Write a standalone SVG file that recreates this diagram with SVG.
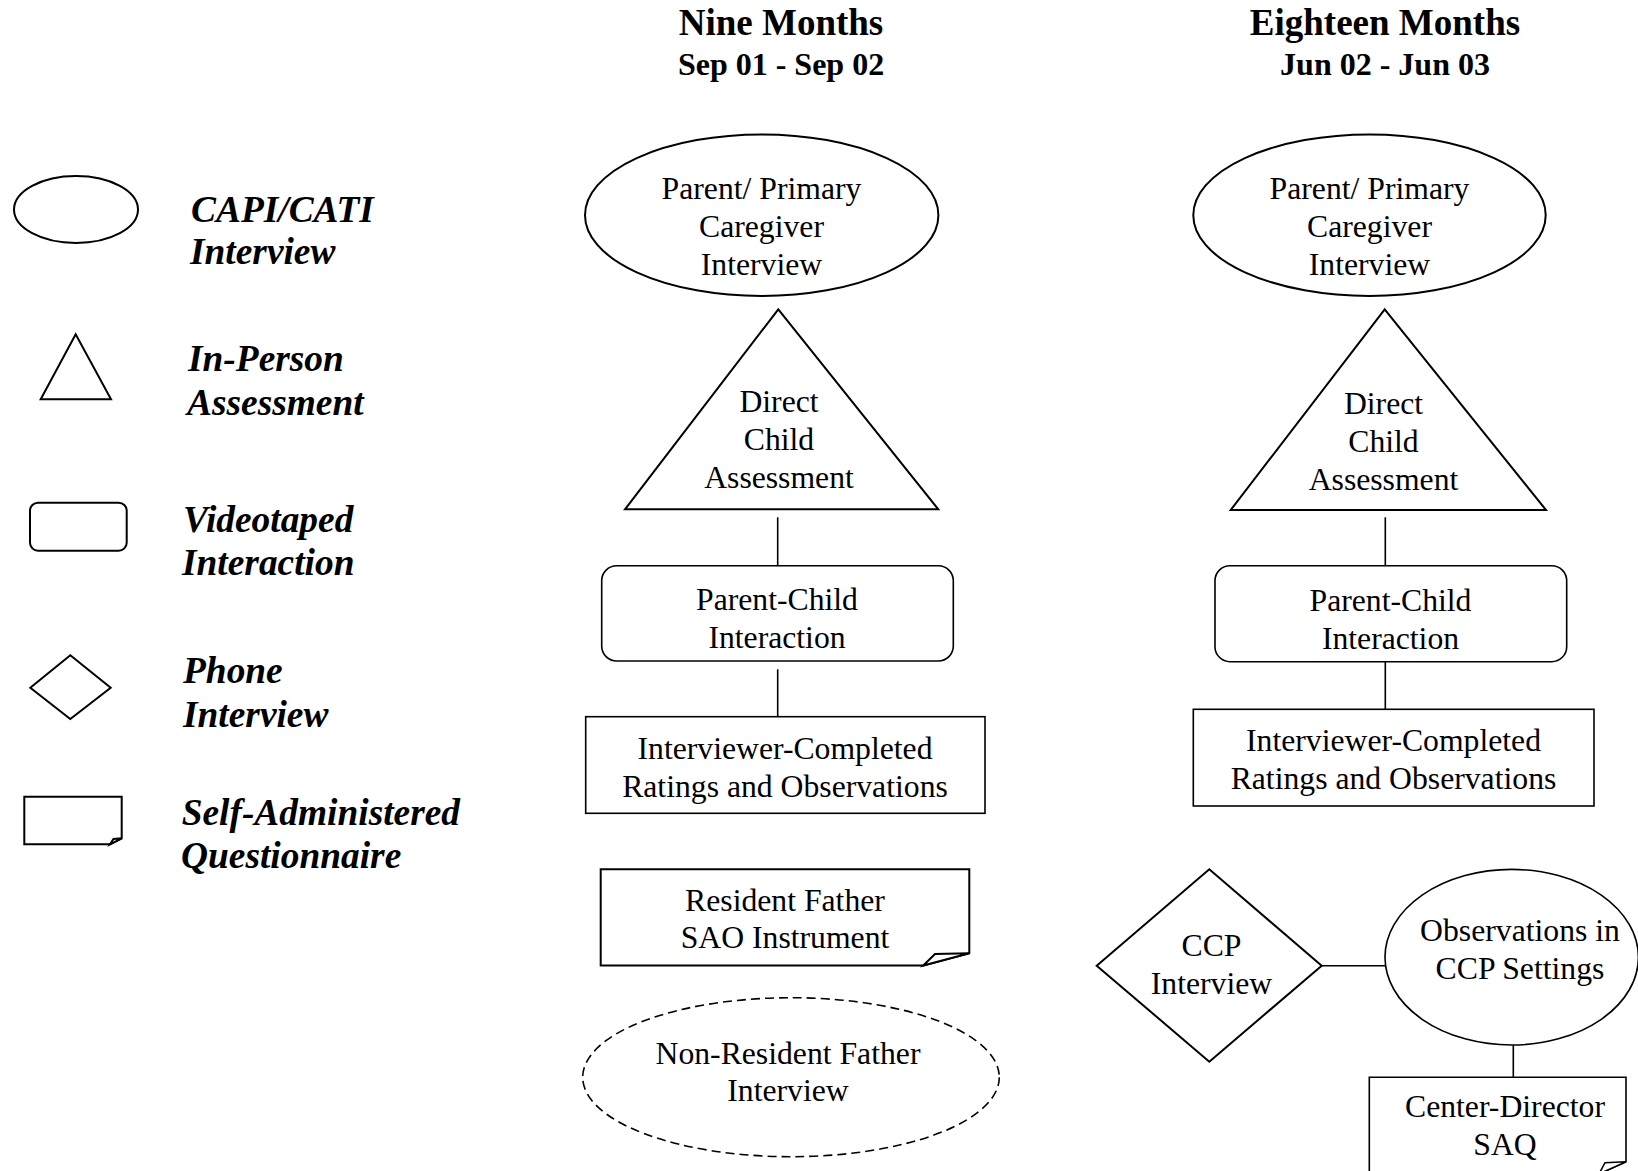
<svg xmlns="http://www.w3.org/2000/svg" width="1638" height="1171" viewBox="0 0 1638 1171">
<style>
.shape{fill:#fff;stroke:#000;stroke-width:2}
.thin{fill:#fff;stroke:#000;stroke-width:1.6}
.dash{fill:#fff;stroke:#000;stroke-width:1.6;stroke-dasharray:9 5}
.conn line{stroke:#000;stroke-width:1.6}
.t{font-family:"Liberation Serif","Times New Roman",serif;font-size:31.7px;text-anchor:middle;fill:#000}
.leg{font-family:"Liberation Serif","Times New Roman",serif;font-size:37.4px;font-weight:bold;font-style:italic;fill:#000}
.h1{font-family:"Liberation Serif","Times New Roman",serif;font-size:37px;font-weight:bold;text-anchor:middle;fill:#000}
.h2{font-family:"Liberation Serif","Times New Roman",serif;font-size:32px;font-weight:bold;text-anchor:middle;fill:#000}
</style>
<rect width="1638" height="1171" fill="#fff"/>

<g id="legend">
  <g id="legend-capi">
    <ellipse class="shape" cx="76" cy="209.5" rx="62" ry="33.5"/>
    <text class="leg" x="191" y="222">CAPI/CATI</text>
    <text class="leg" x="190" y="264">Interview</text>
  </g>
  <g id="legend-inperson">
    <polygon class="shape" points="75.7,334.3 40.7,399.3 111,399.3"/>
    <text class="leg" x="188" y="371">In-Person</text>
    <text class="leg" x="187" y="415">Assessment</text>
  </g>
  <g id="legend-video">
    <rect class="shape" x="30" y="502.7" width="96.7" height="48" rx="8"/>
    <text class="leg" x="183" y="532">Videotaped</text>
    <text class="leg" x="182" y="575">Interaction</text>
  </g>
  <g id="legend-phone">
    <polygon class="shape" points="30.3,687.7 70.3,655.3 110.7,687.7 70.3,719"/>
    <text class="leg" x="183" y="683">Phone</text>
    <text class="leg" x="183" y="727">Interview</text>
  </g>
  <g id="legend-saq">
    <path class="shape" d="M24.3,796.7 H121.7 V838.3 L110,844.3 H24.3 Z"/>
    <path class="shape" d="M110,844.3 L113.5,839 L121.7,838.3 Z" stroke-width="1.5"/>
    <text class="leg" x="181.7" y="825">Self-Administered</text>
    <text class="leg" x="181" y="868">Questionnaire</text>
  </g>
</g>

<g id="headers">
  <text class="h1" x="781" y="35">Nine Months</text>
  <text class="h2" x="781" y="74.5">Sep 01 - Sep 02</text>
  <text class="h1" x="1385" y="35">Eighteen Months</text>
  <text class="h2" x="1385" y="74.5">Jun 02 - Jun 03</text>
</g>

<g id="connectors" class="conn">
  <line x1="777.7" y1="517.3" x2="777.7" y2="565.7"/>
  <line x1="777.7" y1="669.3" x2="777.7" y2="716.7"/>
  <line x1="1385.3" y1="517.3" x2="1385.3" y2="565.7"/>
  <line x1="1385.3" y1="661.7" x2="1385.3" y2="709.3"/>
  <line x1="1321.7" y1="965.7" x2="1385" y2="965.7"/>
  <line x1="1513.3" y1="1045" x2="1513.3" y2="1077.3"/>
</g>

<g id="n9-parent">
  <ellipse class="shape" cx="761.7" cy="215.2" rx="176.7" ry="80.8"/>
  <text class="t" x="761.5" y="199">Parent/ Primary</text>
  <text class="t" x="761.5" y="237">Caregiver</text>
  <text class="t" x="761.5" y="275">Interview</text>
</g>
<g id="n9-direct">
  <polygon class="shape" points="778.3,309.3 625,509.3 938.3,509.3"/>
  <text class="t" x="779" y="412">Direct</text>
  <text class="t" x="779" y="450">Child</text>
  <text class="t" x="779" y="488">Assessment</text>
</g>
<g id="n9-interaction">
  <rect class="thin" x="601.7" y="565.7" width="351.6" height="95.3" rx="15"/>
  <text class="t" x="777" y="610">Parent-Child</text>
  <text class="t" x="777" y="648">Interaction</text>
</g>
<g id="n9-ratings">
  <rect class="thin" x="585.7" y="716.7" width="399.3" height="96.6"/>
  <text class="t" x="785" y="758.5">Interviewer-Completed</text>
  <text class="t" x="785" y="796.5">Ratings and Observations</text>
</g>
<g id="n9-resfather">
  <path class="shape" d="M600.7,869.3 H969.3 V953.3 L923.3,965.5 H600.7 Z"/>
  <path class="shape" d="M923.3,965.5 L935,954 L969.3,953.3 Z" stroke-width="1.6"/>
  <text class="t" x="785" y="911">Resident Father</text>
  <text class="t" x="785" y="948">SAO Instrument</text>
</g>
<g id="n9-nonres">
  <ellipse class="dash" cx="791" cy="1077.2" rx="208.3" ry="79.5"/>
  <text class="t" x="788" y="1063.5">Non-Resident Father</text>
  <text class="t" x="788" y="1101">Interview</text>
</g>

<g id="n18-parent">
  <ellipse class="shape" cx="1369.5" cy="215.2" rx="176.2" ry="80.8"/>
  <text class="t" x="1369.5" y="199">Parent/ Primary</text>
  <text class="t" x="1369.5" y="237">Caregiver</text>
  <text class="t" x="1369.5" y="275">Interview</text>
</g>
<g id="n18-direct">
  <polygon class="shape" points="1384.7,309.3 1230.7,510 1546,510"/>
  <text class="t" x="1383.5" y="413.5">Direct</text>
  <text class="t" x="1383.5" y="452">Child</text>
  <text class="t" x="1383.5" y="490">Assessment</text>
</g>
<g id="n18-interaction">
  <rect class="thin" x="1215" y="565.7" width="351.7" height="96" rx="15"/>
  <text class="t" x="1390.5" y="611">Parent-Child</text>
  <text class="t" x="1390.5" y="648.5">Interaction</text>
</g>
<g id="n18-ratings">
  <rect class="thin" x="1193.3" y="709.3" width="400.7" height="96.7"/>
  <text class="t" x="1393.5" y="750.5">Interviewer-Completed</text>
  <text class="t" x="1393.5" y="788.5">Ratings and Observations</text>
</g>
<g id="n18-ccp">
  <polygon class="shape" points="1096.7,965.7 1209.3,869.3 1321.7,965.7 1209.3,1061.7"/>
  <text class="t" x="1211.5" y="956">CCP</text>
  <text class="t" x="1211.5" y="993.5">Interview</text>
</g>
<g id="n18-obs">
  <ellipse class="thin" cx="1511.7" cy="957.2" rx="126.7" ry="87.8"/>
  <text class="t" x="1520" y="941">Observations in</text>
  <text class="t" x="1520" y="978.5">CCP Settings</text>
</g>
<g id="n18-director">
  <path class="thin" d="M1369.3,1180 V1077.3 H1626 V1161.7 L1599,1174"/>
  <path class="thin" d="M1599,1174 L1605,1162.7 L1626,1161.7 Z"/>
  <text class="t" x="1505" y="1116.5">Center-Director</text>
  <text class="t" x="1505" y="1155">SAQ</text>
</g>
</svg>
